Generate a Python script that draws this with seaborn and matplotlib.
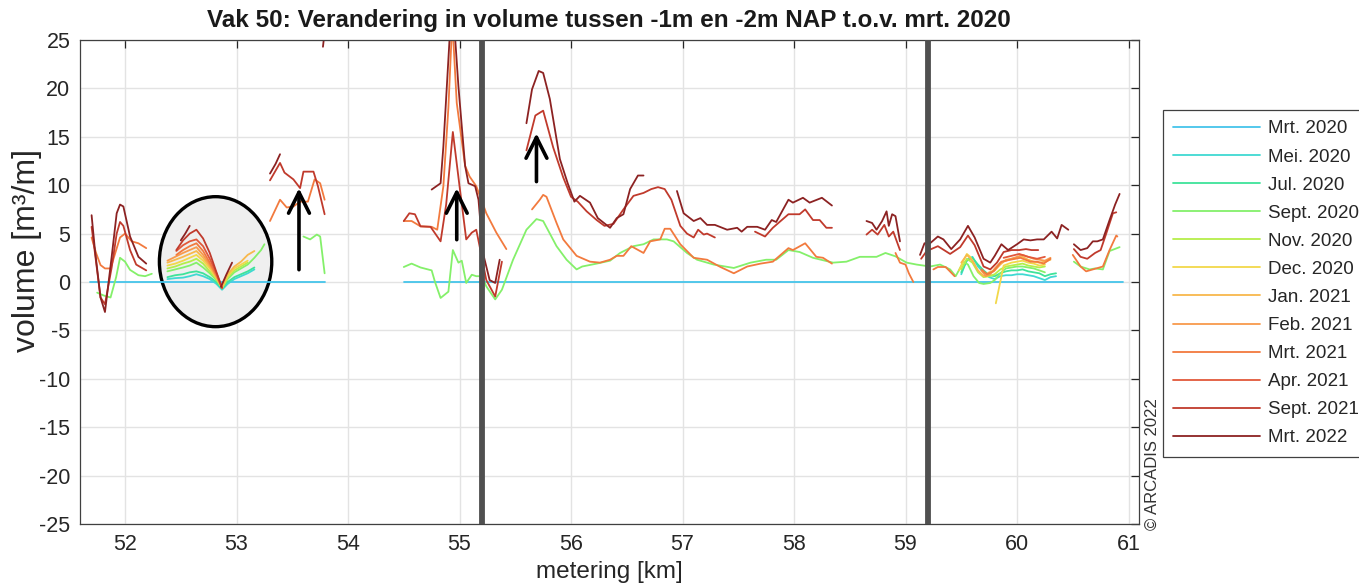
import numpy as np
import pandas as pd
import matplotlib
matplotlib.use("Agg")
import matplotlib.pyplot as plt
import seaborn as sns
from matplotlib.patches import Ellipse

# ---------------- data (None separates line segments) ----------------
LABELS = ['Mrt. 2020', 'Mei. 2020', 'Jul. 2020', 'Sept. 2020', 'Nov. 2020', 'Dec. 2020',
          'Jan. 2021', 'Feb. 2021', 'Mrt. 2021', 'Apr. 2021', 'Sept. 2021', 'Mrt. 2022']
COLORS = ['#45c4ea', '#3fd9d2', '#3ee39a', '#84f06a', '#b5ee4a', '#f2d84a',
          '#f8b84c', '#f89a4c', '#f27a3e', '#e2583a', '#c03a2c', '#8c2222']

km_mrt20 = [51.69, 52.2, 52.8, 53.3, 53.79, None, 54.50, 55.5, 56.5, 57.5, 58.5, 59.5, 60.5, 60.95]
vol_mrt20 = [0, 0, 0, 0, 0, None, 0, 0, 0, 0, 0, 0, 0, 0]

km_mei20 = [52.38, 52.45, 52.52, 52.58, 52.64, 52.70, 52.76, 52.82, 52.87, 52.92, 52.98, 53.04, 53.10, 53.16, None,
            59.50, 59.55, 59.60, 59.65, 59.70, 59.75, 59.80, 59.85, 59.90, 59.95, 60.00, 60.05, 60.10, 60.15,
            60.20, 60.25, 60.30, 60.35]
vol_mei20 = [0.3, 0.4, 0.45, 0.6, 0.8, 0.6, 0.3, -0.2, -0.8, -0.2, 0.3, 0.6, 0.9, 1.3, None,
             0.8, 2.3, 2.6, 1.6, 1.0, 0.5, 0.3, 0.6, 0.7, 0.7, 0.8, 0.8, 0.7, 0.6, 0.4, 0.2, 0.5, 0.6]

km_jul20 = [52.38, 52.45, 52.52, 52.58, 52.64, 52.70, 52.76, 52.82, 52.87, 52.92, 52.98, 53.04, 53.10, 53.16, None,
            59.50, 59.55, 59.60, 59.65, 59.70, 59.75, 59.80, 59.85, 59.90, 59.95, 60.00, 60.05, 60.10, 60.15,
            60.20, 60.25, 60.30, 60.35]
vol_jul20 = [0.5, 0.7, 0.8, 1.0, 1.1, 0.9, 0.5, 0.0, -0.7, 0.0, 0.5, 0.8, 1.1, 1.5, None,
             1.0, 2.2, 2.5, 1.8, 1.2, 0.7, 0.6, 0.9, 1.1, 1.2, 1.2, 1.3, 1.1, 1.0, 0.9, 0.6, 0.8, 0.9]

km_sep20 = [51.75, 51.81, 51.87, 51.92, 51.955, 52.00, 52.045, 52.12, 52.18, 52.24, None,
            52.38, 52.45, 52.52, 52.58, 52.64, 52.70, 52.76, 52.82, 52.87, 52.92, 52.98, 53.04, 53.10, 53.16,
            53.22, 53.25, None,
            53.60, 53.66, 53.72, 53.75, 53.79, None,
            54.50, 54.57, 54.65, 54.75, 54.78, 54.83, 54.90, 54.94, 54.99, 55.02, 55.06, 55.11, 55.15, 55.20,
            55.24, 55.32, 55.38, 55.48, 55.60, 55.69, 55.75, 55.87, 55.96, 56.05, 56.10, 56.23, 56.35, 56.44,
            56.56, 56.65, 56.74, 56.86, 56.92, 57.04, 57.13, 57.28, 57.46, 57.61, 57.75, 57.84, 57.95, 58.05,
            58.17, 58.35, 58.47, 58.59, 58.74, 58.82, 58.91, 59.01, 59.10, 59.22, 59.31, 59.40, 59.45, 59.52,
            59.56, 59.61, 59.66, 59.70, 59.76, 59.80, 59.85, 59.90, 59.95, 60.00, 60.05, 60.10, 60.15, 60.20,
            60.25, None,
            60.51, 60.57, 60.65, 60.70, 60.77, 60.83, 60.92]
vol_sep20 = [-1.1, -1.4, -1.6, 0.5, 2.5, 2.1, 1.25, 0.7, 0.6, 0.85, None,
             1.1, 1.3, 1.5, 1.7, 2.0, 1.5, 0.9, 0.2, -0.6, 0.3, 1.0, 1.4, 1.8, 2.5, 3.3, 3.9, None,
             4.7, 4.4, 4.9, 4.7, 0.9, None,
             1.55, 1.9, 1.5, 1.2, 0.0, -1.65, -1.0, 3.3, 2.0, 2.2, -0.1, 0.75, 0.6, 0.6,
             -0.45, -1.8, -0.8, 2.3, 5.4, 6.5, 6.3, 3.7, 2.3, 1.3, 1.6, 1.9, 2.2, 3.0,
             3.7, 3.9, 4.4, 4.4, 4.2, 3.0, 2.3, 1.8, 1.45, 2.0, 2.3, 2.3, 3.3, 3.1,
             2.5, 2.0, 2.1, 2.6, 2.6, 3.0, 2.65, 2.0, 1.8, 1.6, 1.8, 1.3, 0.6, 2.1,
             1.8, 0.6, -0.1, -0.2, -0.1, 0.2, 0.9, 1.4, 1.5, 1.6, 1.6, 1.5, 1.4, 1.2,
             1.0, None,
             2.1, 1.6, 1.3, 1.4, 1.3, 3.2, 3.6]

km_nov20 = [52.38, 52.45, 52.52, 52.58, 52.64, 52.70, 52.76, 52.82, 52.87, 52.92, 52.98, 53.04, 53.10, None,
            59.50, 59.55, 59.60, 59.65, 59.70, 59.75, 59.80, 59.85, 59.90, 59.95, 60.00, 60.05, 60.10, 60.15,
            60.20, 60.25]
vol_nov20 = [1.4, 1.6, 1.9, 2.1, 2.4, 1.9, 1.1, 0.3, -0.6, 0.5, 1.2, 1.6, 2.0, None,
             1.3, 2.4, 2.0, 1.0, 0.5, 0.6, 0.8, 1.3, 1.6, 1.7, 1.8, 1.9, 1.7, 1.6, 1.5, 1.6]

km_dec20 = [52.38, 52.45, 52.52, 52.58, 52.64, 52.70, 52.76, 52.82, 52.87, 52.92, 52.98, 53.04, 53.10, None,
            59.48, 59.52, 59.55, 59.58, 59.62, None,
            59.81, 59.88, 59.95, 60.00, 60.05, 60.10, 60.15, 60.20, 60.25]
vol_dec20 = [1.7, 1.9, 2.2, 2.5, 2.8, 2.2, 1.4, 0.4, -0.6, 0.6, 1.4, 1.8, 2.2, None,
             1.2, 2.2, 2.9, 2.6, 1.8, None,
             -2.2, 1.7, 2.0, 2.1, 2.2, 2.0, 1.9, 1.7, 1.8]

km_jan21 = [52.38, 52.45, 52.52, 52.58, 52.64, 52.70, 52.76, 52.82, 52.87, 52.92, 52.98, 53.04, 53.10, 53.16, None,
            59.50, 59.55, 59.60, 59.65, 59.70, 59.75, 59.80, 59.85, 59.90, 59.95, 60.00, 60.05, 60.10, 60.15,
            60.20, 60.25, 60.30]
vol_jan21 = [2.0, 2.3, 2.6, 2.9, 3.2, 2.5, 1.6, 0.5, -0.6, 0.8, 1.6, 2.1, 2.8, 3.2, None,
             2.0, 2.8, 2.2, 1.2, 0.6, 1.0, 1.2, 1.8, 2.3, 2.4, 2.5, 2.6, 2.3, 2.1, 2.0, 2.1, 2.3]

km_feb21 = [52.38, 52.45, 52.52, 52.58, 52.64, 52.70, 52.76, 52.82, 52.87, None,
            59.68, 59.72, 59.76, 59.80, 59.85, 59.90, 59.95, 60.00, 60.05, 60.10, 60.15, 60.20, 60.25, 60.30]
vol_feb21 = [2.2, 2.6, 3.0, 3.3, 3.6, 2.8, 1.8, 0.6, -0.6, None,
             1.2, 0.6, 0.8, 1.4, 2.0, 2.2, 2.4, 2.6, 2.8, 2.6, 2.4, 2.3, 2.2, 2.5]

km_mrt21 = [51.70, 51.74, 51.78, 51.82, 51.87, 51.955, 52.00, 52.06, 52.12, 52.19, None,
            52.46, 52.52, 52.58, 52.64, 52.70, 52.76, 52.82, 52.87, None,
            53.30, 53.39, 53.45, 53.51, 53.57, 53.64, 53.70, 53.75, 53.79, None,
            54.50, 54.57, 54.65, 54.75, 54.80, 54.855, 54.90, 54.935, 54.975, 55.05, 55.09, 55.15, 55.24,
            55.33, 55.42, None,
            55.65, 55.72, 55.75, 55.78, 55.87, 55.93, 56.05, 56.17, 56.26, 56.35, 56.41, 56.47, 56.54, 56.65,
            56.71, 56.80, 56.84, 56.89, 56.98, 57.10, 57.22, 57.34, 57.46, 57.58, 57.70, 57.81, 57.95, 57.99,
            58.10, 58.20, 58.26, 58.34, None,
            58.91, 58.95, 59.00, 59.03, 59.07, None,
            59.25, 59.29, 59.36, 59.44, None,
            59.68, 59.73, 59.79, 59.86, 59.94, 60.03, 60.12, 60.18, 60.24, 60.30, None,
            60.50, 60.57, 60.62, 60.68, 60.77, 60.83, 60.89, 60.90]
vol_mrt21 = [4.6, 3.0, 1.75, 1.4, 1.4, 4.6, 5.0, 4.2, 4.0, 3.5, None,
             2.8, 3.3, 3.7, 4.0, 3.2, 2.0, 0.7, -0.6, None,
             6.3, 8.5, 7.7, 7.8, 8.3, 8.3, 10.6, 10.2, 8.5, None,
             6.3, 6.3, 5.75, 5.7, 5.4, 9.9, 18.0, 27.0, 18.5, 12.0, 10.9, 9.9, 7.1,
             5.1, 3.4, None,
             7.5, 8.5, 9.0, 8.8, 6.1, 4.4, 2.7, 2.1, 2.0, 2.3, 2.7, 2.7, 3.7, 3.0,
             4.2, 4.4, 5.5, 5.5, 3.9, 2.5, 2.3, 1.55, 0.9, 1.6, 1.9, 2.1, 3.5, 3.3,
             4.0, 2.6, 2.5, 1.9, None,
             3.0, 2.0, 1.8, 0.9, 0.0, None,
             1.3, 1.55, 1.55, 0.6, None,
             1.3, 0.8, 1.1, 2.1, 2.3, 2.5, 2.1, 2.1, 1.9, 2.4, None,
             2.8, 1.6, 1.1, 1.3, 1.6, 3.3, 4.8, 4.7]

km_apr21 = [52.46, 52.52, 52.58, 52.64, 52.70, 52.76, 52.82, 52.87, None,
            59.88, 59.95, 60.02, 60.10, 60.18, 60.25]
vol_apr21 = [3.2, 3.8, 4.2, 4.4, 3.7, 2.4, 0.9, -0.6, None,
             2.5, 2.7, 2.9, 2.6, 2.4, 2.6]

km_sep21 = [51.70, 51.73, 51.78, 51.82, 51.88, 51.925, 51.955, 51.985, 52.045, 52.10, 52.19, None,
            52.46, 52.52, 52.58, 52.64, 52.70, 52.76, 52.82, 52.87, None,
            53.30, 53.39, 53.43, 53.51, 53.57, 53.60, 53.69, 53.73, 53.79, None,
            54.50, 54.55, 54.60, 54.65, 54.74, 54.83, 54.88, 54.94, 55.00, 55.06, 55.11, 55.15, 55.18, 55.24,
            55.32, 55.38, None,
            55.60, 55.68, 55.75, 55.84, 55.93, 56.00, 56.06, 56.14, 56.23, 56.30, 56.38, 56.47, 56.56, 56.65,
            56.72, 56.78, 56.84, 56.90, 56.98, 57.04, 57.10, 57.14, 57.19, 57.22, 57.29, None,
            57.65, 57.74, 57.81, 57.95, 58.05, 58.10, 58.17, 58.23, 58.29, 58.34, None,
            58.65, 58.70, 58.75, 58.81, 58.85, 58.89, 58.95, None,
            59.14, 59.19, 59.29, 59.40, 59.49, 59.56, 59.62, 59.70, 59.76, 59.82, 59.88, 59.95, 60.02, 60.08,
            60.13, 60.19, None,
            60.51, 60.57, 60.63, 60.70, 60.75, 60.80, 60.86, 60.89]
vol_sep21 = [5.7, 3.0, -1.6, -2.3, 1.5, 5.0, 6.2, 5.8, 3.3, 1.8, 1.2, None,
             3.3, 4.3, 5.0, 5.4, 4.5, 3.0, 1.0, -0.6, None,
             10.5, 12.3, 11.3, 10.6, 9.7, 11.4, 11.4, 9.9, 7.0, None,
             6.3, 7.1, 7.0, 5.75, 5.7, 4.2, 8.0, 15.5, 9.9, 4.4, 5.1, 5.4, 3.7, 0.2,
             -1.5, 2.1, None,
             13.6, 17.2, 17.7, 13.9, 10.8, 8.8, 8.3, 7.3, 6.4, 5.8, 6.0, 7.5, 8.9, 9.2,
             9.6, 9.8, 9.6, 8.5, 5.8, 5.0, 4.6, 5.4, 4.9, 5.0, 4.6, None,
             5.2, 4.7, 5.6, 7.0, 7.0, 7.5, 6.4, 6.4, 5.6, 5.6, None,
             4.9, 5.4, 4.9, 5.9, 4.7, 5.2, 3.3, None,
             2.4, 3.2, 3.7, 2.9, 3.6, 4.8, 3.8, 1.6, 1.3, 2.0, 3.1, 3.3, 3.3, 3.4,
             3.3, 3.3, None,
             3.4, 2.6, 2.4, 3.0, 3.3, 5.0, 7.1, 7.2]

km_mrt22 = [51.70, 51.73, 51.78, 51.82, 51.88, 51.925, 51.955, 51.985, 52.045, 52.12, 52.19, None,
            52.50, 52.54, 52.58, None,
            52.86, 52.91, 52.96, None,
            53.30, 53.35, 53.39, None,
            53.775, 53.79, None,
            54.75, 54.83, 54.855, 54.91, 54.95, 54.99, 55.05, 55.08, 55.14, 55.17, 55.21, 55.27, 55.32, 55.36, None,
            55.60, 55.65, 55.71, 55.75, 55.81, 55.90, 55.97, 56.03, 56.08, 56.17, 56.24, 56.35, 56.41, 56.47,
            56.53, 56.60, 56.65, None,
            56.95, 57.01, 57.10, 57.16, 57.22, 57.29, 57.40, 57.49, 57.53, 57.58, 57.67, 57.74, 57.80, 57.84,
            57.95, 57.99, 58.08, 58.14, 58.25, 58.34, None,
            58.65, 58.70, 58.74, 58.79, 58.83, 58.85, 58.88, 58.91, 58.95, None,
            59.13, 59.17, 59.22, 59.29, 59.34, 59.41, 59.49, 59.56, 59.62, 59.70, 59.76, 59.80, 59.86, 59.92,
            60.00, 60.06, 60.12, 60.18, 60.24, 60.31, 60.36, 60.40, 60.46, None,
            60.51, 60.57, 60.63, 60.68, 60.72, 60.77, 60.83, 60.88, 60.92]
vol_mrt22 = [6.9, 3.3, -1.6, -3.1, 2.6, 7.1, 8.0, 7.8, 4.7, 2.6, 1.9, None,
             4.3, 5.0, 5.8, None,
             -0.5, 0.8, 2.0, None,
             11.2, 12.2, 13.2, None,
             24.3, 25.8, None,
             9.55, 10.2, 14.0, 25.0, 27.0, 20.2, 12.0, 10.2, 9.9, 8.5, 3.0, 0.2, -0.1, 2.3, None,
             16.4, 19.9, 21.8, 21.6, 18.9, 12.7, 10.2, 8.3, 8.9, 8.2, 6.6, 5.6, 6.6, 7.0,
             9.6, 11.0, 11.0, None,
             9.4, 7.1, 6.3, 6.6, 5.9, 5.9, 5.4, 5.6, 5.2, 5.7, 5.7, 5.4, 6.4, 6.2,
             8.5, 8.2, 8.7, 8.2, 8.7, 7.9, None,
             6.3, 6.1, 5.4, 6.3, 7.3, 5.8, 7.0, 6.8, 4.2, None,
             2.8, 4.0, 4.0, 4.7, 4.4, 3.4, 4.4, 5.8, 4.6, 2.4, 2.0, 2.7, 3.9, 3.3,
             3.9, 4.4, 4.3, 4.4, 4.4, 5.2, 4.5, 5.9, 5.4, None,
             3.9, 3.3, 3.5, 4.2, 4.2, 4.4, 6.4, 8.0, 9.1]

KM = [km_mrt20, km_mei20, km_jul20, km_sep20, km_nov20, km_dec20,
      km_jan21, km_feb21, km_mrt21, km_apr21, km_sep21, km_mrt22]
VOL = [vol_mrt20, vol_mei20, vol_jul20, vol_sep20, vol_nov20, vol_dec20,
       vol_jan21, vol_feb21, vol_mrt21, vol_apr21, vol_sep21, vol_mrt22]

Y_TICKS = list(range(-25, 30, 5))
X_TICKS = list(range(52, 62))
SECTION_LINES = [55.2, 59.2]
ARROWS = [(53.56, 1.27, 9.68), (54.975, 4.37, 9.68), (55.69, 10.37, 15.36)]
CIRCLE = (52.812, 2.10, 1.008, 13.43)

TITLE = "Vak 50: Verandering in volume tussen -1m en -2m NAP t.o.v. mrt. 2020"

# ---------------- long-form table ----------------
rows = []
for lab, kms, vols in zip(LABELS, KM, VOL):
    seg = 0
    for k, v in zip(kms, vols):
        if k is None:
            seg += 1
            continue
        rows.append({"meting": lab, "seg": f"{lab}|{seg}", "km": k, "vol": v})
df = pd.DataFrame(rows)

# ---------------- figure ----------------
sns.set_theme(style="white")
plt.rcParams["font.family"] = ["Liberation Sans", "DejaVu Sans"]
plt.rcParams["axes.unicode_minus"] = False

W, H = 1359, 587
fig = plt.figure(figsize=(W / 100, H / 100), dpi=100)
ax = fig.add_axes([80 / W, (H - 524) / H, (1139 - 80) / W, (524 - 40) / H])

sns.lineplot(data=df, x="km", y="vol", hue="meting", hue_order=LABELS,
             palette=dict(zip(LABELS, COLORS)), units="seg", estimator=None,
             sort=False, linewidth=1.3, ax=ax, zorder=2)

ax.add_patch(Ellipse((CIRCLE[0], CIRCLE[1]), CIRCLE[2], CIRCLE[3],
                     facecolor="#efefef", edgecolor="black", linewidth=2.4, zorder=1.5))

for xv in SECTION_LINES:
    ax.axvline(xv, color="#505050", linewidth=4.2, zorder=4)

for xa, y0, y1 in ARROWS:
    ax.annotate("", xy=(xa, y1), xytext=(xa, y0),
                arrowprops=dict(arrowstyle="->,head_length=1.5,head_width=0.75",
                                mutation_scale=10, lw=2.6, color="black",
                                shrinkA=0, shrinkB=0), zorder=5)

ax.set_xlim(51.596, 61.094)
ax.set_ylim(-25, 25)
ax.set_xticks(X_TICKS)
ax.set_yticks(Y_TICKS)
ax.grid(True, color="#e3e3e3", linewidth=1.0)
ax.set_axisbelow(True)
ax.tick_params(direction="in", length=6, width=0.9, top=True, right=True,
               labelsize=15.5, colors="#262626", pad=7)
for sp in ax.spines.values():
    sp.set_color("#404040")
    sp.set_linewidth(0.9)

ax.set_xlabel("metering [km]", fontsize=17.5, color="#262626")
ax.xaxis.set_label_coords(0.5, -0.076)
ax.xaxis.label.set_va("top")
ax.set_ylabel("volume [m³/m]", fontsize=23, color="#262626")
ax.yaxis.set_label_coords(-0.05, 0.565)
ax.yaxis.label.set_va("center")

fig.text(609 / W, 1 - 20 / H, TITLE, ha="center", va="center", fontsize=17.5,
         fontweight="bold", color="#1a1a1a")

fig.text(1152 / W, 1 - 530 / H, "© ARCADIS 2022", rotation=90, ha="center", va="bottom",
         fontsize=12, color="#333333")

handles, labels = ax.get_legend_handles_labels()
ax.get_legend().remove()
leg = fig.legend(handles, labels, loc="upper left",
                 bbox_to_anchor=(1163 / W, 1 - 110 / H), bbox_transform=fig.transFigure,
                 fontsize=13.5, frameon=True, fancybox=False, framealpha=1,
                 edgecolor="#404040", handlelength=4.6, handletextpad=0.45,
                 labelspacing=0.585, borderpad=0.55, borderaxespad=0)
leg.get_frame().set_linewidth(0.9)
for lh in leg.get_lines():
    lh.set_linewidth(1.3)

fig.savefig("out.png", dpi=100, facecolor="white")
